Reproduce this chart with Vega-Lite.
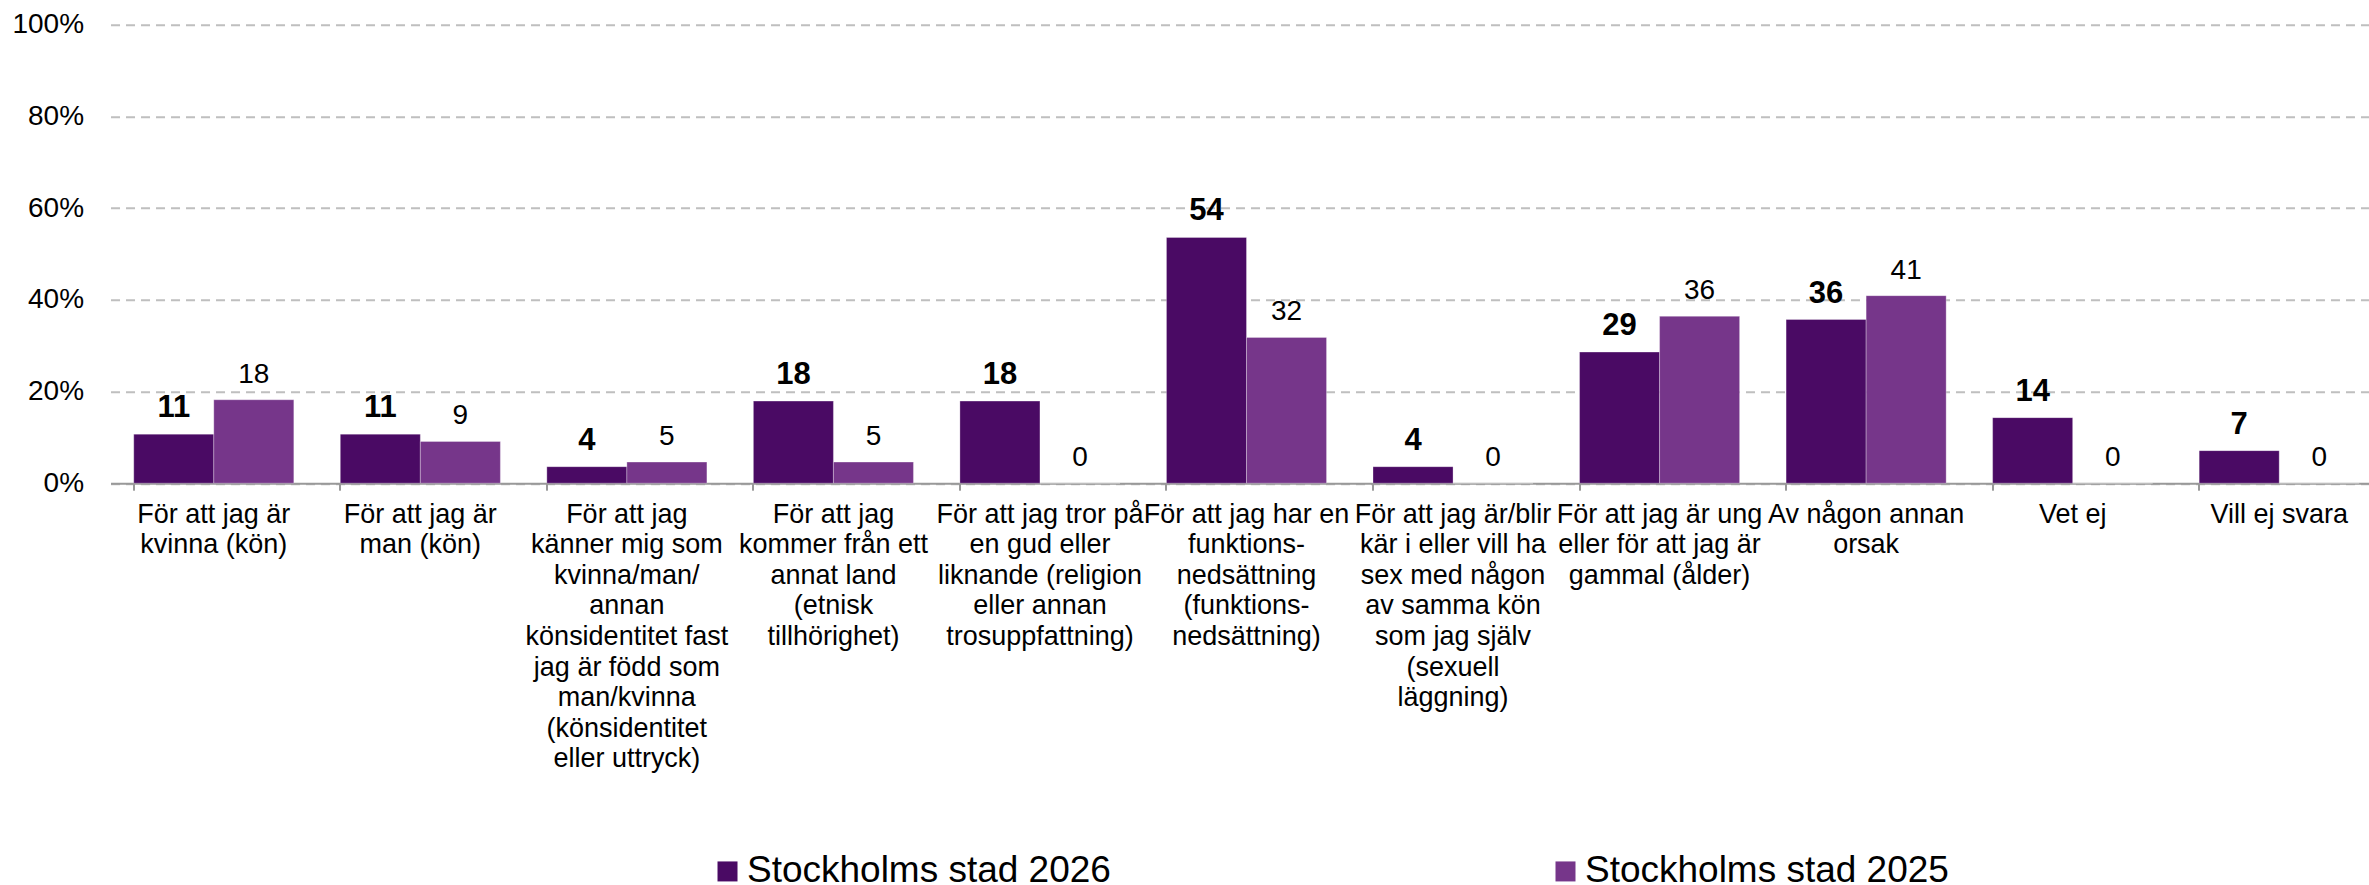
{
  "$schema": "https://vega.github.io/schema/vega-lite/v6.json",
  "width": 2272,
  "height": 458.5,
  "autosize": {"type": "none"},
  "padding": {"left": 110.5, "top": 24.7, "right": 0, "bottom": 402},
  "background": "white",
  "config": {"font": "Liberation Sans", "view": {"stroke": null}},
  "data": {
    "values": [
      {"category": "För att jag är\nkvinna (kön)", "series": "Stockholms stad 2026", "value": 10.7},
      {"category": "För att jag är\nkvinna (kön)", "series": "Stockholms stad 2025", "value": 18.2},
      {"category": "För att jag är\nman (kön)", "series": "Stockholms stad 2026", "value": 10.7},
      {"category": "För att jag är\nman (kön)", "series": "Stockholms stad 2025", "value": 9.1},
      {"category": "För att jag\nkänner mig som\nkvinna/man/\nannan\nkönsidentitet fast\njag är född som\nman/kvinna\n(könsidentitet\neller uttryck)", "series": "Stockholms stad 2026", "value": 3.6},
      {"category": "För att jag\nkänner mig som\nkvinna/man/\nannan\nkönsidentitet fast\njag är född som\nman/kvinna\n(könsidentitet\neller uttryck)", "series": "Stockholms stad 2025", "value": 4.6},
      {"category": "För att jag\nkommer från ett\nannat land\n(etnisk\ntillhörighet)", "series": "Stockholms stad 2026", "value": 17.9},
      {"category": "För att jag\nkommer från ett\nannat land\n(etnisk\ntillhörighet)", "series": "Stockholms stad 2025", "value": 4.6},
      {"category": "För att jag tror på\nen gud eller\nliknande (religion\neller annan\ntrosuppfattning)", "series": "Stockholms stad 2026", "value": 17.9},
      {"category": "För att jag tror på\nen gud eller\nliknande (religion\neller annan\ntrosuppfattning)", "series": "Stockholms stad 2025", "value": 0},
      {"category": "För att jag har en\nfunktions-\nnedsättning\n(funktions-\nnedsättning)", "series": "Stockholms stad 2026", "value": 53.6},
      {"category": "För att jag har en\nfunktions-\nnedsättning\n(funktions-\nnedsättning)", "series": "Stockholms stad 2025", "value": 31.8},
      {"category": "För att jag är/blir\nkär i eller vill ha\nsex med någon\nav samma kön\nsom jag själv\n(sexuell\nläggning)", "series": "Stockholms stad 2026", "value": 3.6},
      {"category": "För att jag är/blir\nkär i eller vill ha\nsex med någon\nav samma kön\nsom jag själv\n(sexuell\nläggning)", "series": "Stockholms stad 2025", "value": 0},
      {"category": "För att jag är ung\neller för att jag är\ngammal (ålder)", "series": "Stockholms stad 2026", "value": 28.6},
      {"category": "För att jag är ung\neller för att jag är\ngammal (ålder)", "series": "Stockholms stad 2025", "value": 36.4},
      {"category": "Av någon annan\norsak", "series": "Stockholms stad 2026", "value": 35.7},
      {"category": "Av någon annan\norsak", "series": "Stockholms stad 2025", "value": 40.9},
      {"category": "Vet ej", "series": "Stockholms stad 2026", "value": 14.3},
      {"category": "Vet ej", "series": "Stockholms stad 2025", "value": 0},
      {"category": "Vill ej svara", "series": "Stockholms stad 2026", "value": 7.1},
      {"category": "Vill ej svara", "series": "Stockholms stad 2025", "value": 0}
    ]
  },
  "encoding": {
    "x": {
      "field": "category",
      "type": "nominal",
      "sort": null,
      "scale": {"paddingInner": 0.225, "paddingOuter": 0.1125},
      "axis": {
        "title": null,
        "labelAngle": 0,
        "labelExpr": "split(datum.label, '\\n')",
        "labelFontSize": 27,
        "labelLineHeight": 30.6,
        "labelColor": "#000000",
        "labelPadding": 11,
        "labelLimit": 0,
        "labelOverlap": false,
        "labelBound": false,
        "domainColor": "#999999",
        "domainWidth": 2,
        "tickColor": "#999999",
        "tickWidth": 2,
        "tickSize": 7,
        "bandPosition": 0,
        "grid": false
      }
    },
    "xOffset": {
      "field": "series",
      "type": "nominal",
      "sort": ["Stockholms stad 2026", "Stockholms stad 2025"],
      "scale": {"paddingInner": 0, "paddingOuter": 0}
    },
    "y": {
      "field": "value",
      "type": "quantitative",
      "scale": {"domain": [0, 100], "nice": false},
      "axis": {
        "values": [0, 20, 40, 60, 80, 100],
        "labelExpr": "datum.value + '%'",
        "title": null,
        "domain": false,
        "ticks": false,
        "labelPadding": 27,
        "labelFontSize": 28,
        "labelColor": "#000000",
        "grid": true,
        "gridColor": "#BFBFBF",
        "gridWidth": 2,
        "gridDash": [9, 6]
      }
    }
  },
  "layer": [
    {
      "mark": {"type": "bar", "stroke": "#ffffff", "strokeWidth": 1, "strokeOpacity": 0.3},
      "encoding": {
        "color": {
          "field": "series",
          "type": "nominal",
          "scale": {"domain": ["Stockholms stad 2026", "Stockholms stad 2025"], "range": ["#4A0A64", "#76368A"]},
          "legend": {
            "orient": "none",
            "legendX": 598.5,
            "legendY": 828,
            "direction": "horizontal",
            "columns": 2,
            "columnPadding": 435,
            "title": null,
            "symbolType": "square",
            "symbolSize": 400,
            "symbolStrokeWidth": 0,
            "labelFontSize": 37,
            "labelOffset": 1,
            "labelLimit": 0,
            "labelColor": "#000000",
            "padding": 0
          }
        }
      }
    },
    {
      "transform": [{"filter": "datum.series == 'Stockholms stad 2026'"}],
      "mark": {"type": "text", "dy": -17, "baseline": "alphabetic", "fontSize": 31, "fontWeight": "bold", "color": "#000000"},
      "encoding": {"text": {"field": "value", "type": "quantitative", "format": ".0f"}}
    },
    {
      "transform": [{"filter": "datum.series == 'Stockholms stad 2025'"}],
      "mark": {"type": "text", "dy": -17, "baseline": "alphabetic", "fontSize": 28, "color": "#000000"},
      "encoding": {"text": {"field": "value", "type": "quantitative", "format": ".0f"}}
    }
  ]
}
